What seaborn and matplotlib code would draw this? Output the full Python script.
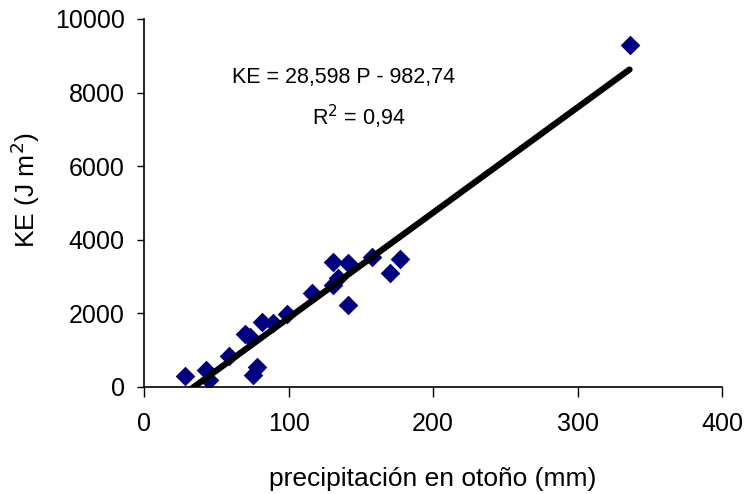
import matplotlib
matplotlib.use("Agg")
import matplotlib.pyplot as plt
import seaborn as sns
import numpy as np
import pandas as pd

precip = [28, 43, 45, 59, 70, 73, 75, 78, 81.5, 89, 99, 116, 131, 134, 131, 141, 141, 158, 170, 177, 336]
ke = [300, 450, 200, 850, 1440, 1360, 330, 540, 1770, 1740, 1980, 2550, 2770, 2960, 3400, 3370, 2230, 3530, 3100, 3480, 9290]
slope = 28.598
intercept = -982.74
x_ticks = [0, 100, 200, 300, 400]
y_ticks = [0, 2000, 4000, 6000, 8000, 10000]

sns.set_theme(style="white")
plt.rcParams['font.family'] = ['Liberation Sans', 'DejaVu Sans']
plt.rcParams['text.color'] = 'black'
plt.rcParams['axes.labelcolor'] = 'black'

df = pd.DataFrame({"P": precip, "KE": ke})
fig = plt.figure(figsize=(7.47, 4.94), dpi=100)
ax = fig.add_axes([0.193, 0.2166, 0.7735, 0.745])

xl = np.array([min(precip), max(precip)])
fit = pd.DataFrame({"P": xl, "KE": slope * xl + intercept})
sns.lineplot(data=fit, x="P", y="KE", ax=ax, color="black", linewidth=4.5, zorder=3)
sns.scatterplot(data=df, x="P", y="KE", ax=ax, marker="D", color="#000080",
                s=100, edgecolor="#000080", linewidth=0, zorder=2)

ax.set_xlim(0, 400)
ax.set_ylim(0, 10000)
ax.set_xticks(x_ticks)
ax.set_yticks(y_ticks)
ax.tick_params(axis="both", labelsize=18, width=1, colors="black",
               bottom=True, left=True)
ax.tick_params(axis="x", direction="out", length=7, pad=11)
ax.tick_params(axis="y", direction="out", length=5, pad=9)
for s in ["top", "right"]:
    ax.spines[s].set_visible(False)
for s in ["left", "bottom"]:
    ax.spines[s].set_color("black")
    ax.spines[s].set_linewidth(1.2)
ax.set_xlabel("precipitación en otoño (mm)", fontsize=19, labelpad=22)
ax.set_ylabel("KE (J m$^{2}$)", fontsize=19)
ax.yaxis.set_label_coords(-0.176, 0.535)

ax.text(61, 8400, "KE = 28,598 P - 982,74", fontsize=15.5, ha="left", va="center", color="black")
ax.text(116, 7340, "R$^{2}$ = 0,94", fontsize=15.5, ha="left", va="center", color="black")

fig.savefig("out.png", dpi=100)
